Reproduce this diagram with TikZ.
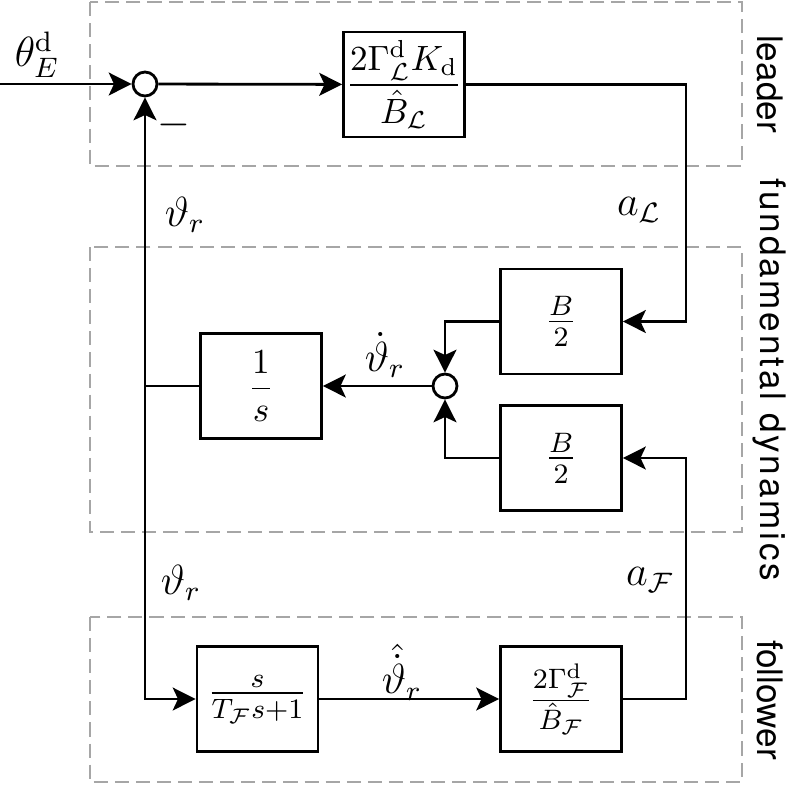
\documentclass[tikz,border=0pt]{standalone}
\usepackage{amsmath}
\usepackage{fontspec}
\setsansfont{TeX Gyre Heros}
\newfontfamily\widesans[LetterSpace=8]{TeX Gyre Heros}
\usetikzlibrary{arrows.meta}

\begin{document}
\begin{tikzpicture}[
    block/.style = {draw, thick, minimum width=1.21cm, minimum height=1.05cm, inner sep=0pt},
    sumnode/.style = {draw, thick, circle, minimum size=0.24cm, inner sep=0pt},
    group/.style = {draw=gray!70, thick, dash pattern=on 4pt off 2pt},
    conn/.style = {thick, -{Stealth[length=6.5pt,width=6.5pt,inset=1.5pt]}},
    wire/.style = {thick},
    grouplabel/.style = {font=\sffamily, rotate=-90},
    signal/.style = {font=\large}
  ]
        \useasboundingbox (0,0) rectangle (7.96,-7.84);
        % dashed groups and their labels
        \draw[group] (0.90,-0.02) rectangle (7.42,-1.66);
        \draw[group] (0.90,-2.47) rectangle (7.42,-5.32);
        \draw[group] (0.90,-6.17) rectangle (7.42,-7.82);
        \node[grouplabel] (lleader) at (7.70,-0.84) {leader};
        \node[grouplabel, font=\widesans] (lfund) at (7.70,-3.80) {fundamental dynamics};
        \node[grouplabel] (lfollow) at (7.70,-7.00) {follower};

        % leader
        \coordinate (in) at (0,-0.84);
        \node[sumnode] (sumL) at (1.45,-0.84) {};
        \node[block] (kL) at (4.04,-0.845) {$\dfrac{2\Gamma^{\mathrm{d}}_{\mathcal{L}}K_{\mathrm{d}}}{\hat{B}_{\mathcal{L}}}$};
        \coordinate (cornerL) at (6.86,-0.845);

        % fundamental dynamics
        \node[block, font=\large] (bU) at (5.61,-3.215) {$\frac{B}{2}$};
        \node[block, font=\large] (bD) at (5.61,-4.58) {$\frac{B}{2}$};
        \node[sumnode] (sumF) at (4.45,-3.86) {};
        \node[block] (integ) at (2.61,-3.86) {$\dfrac{1}{s}$};
        \coordinate (fbjoin) at (1.45,-3.86);

        % follower
        \node[block, font=\large] (hp) at (2.575,-6.99) {$\frac{s}{T_{\mathcal{F}}s+1}$};
        \node[block, font=\large] (kF) at (5.61,-6.99) {$\frac{2\Gamma^{\mathrm{d}}_{\mathcal{F}}}{\hat{B}_{\mathcal{F}}}$};
        \coordinate (fbcorner) at (1.45,-6.99);
        \coordinate (cornerF) at (6.86,-6.99);

        % connectors
        \draw[conn] (in) -- (sumL);
        \draw[conn] (sumL) -- (kL);
        \draw[conn] (kL) -- (cornerL) |- (bU);
        \draw[conn] (kF) -- (cornerF) |- (bD);
        \draw[conn] (bU) -| (sumF);
        \draw[conn] (bD) -| (sumF);
        \draw[conn] (sumF) -- (integ);
        \draw[wire] (integ) -- (fbjoin);
        \draw[conn] (fbjoin) -- (sumL);
        \draw[conn] (fbjoin) -- (fbcorner) -- (hp);
        \draw[conn] (hp) -- (kF);

        % signal labels
        \node[signal] (thetaE) at (0.37,-0.55) {$\theta^{\mathrm{d}}_{E}$};
        \node[signal] (minus) at (1.735,-1.25) {$-$};
        \node[signal] (varthU) at (1.85,-2.15) {$\vartheta_r$};
        \node[signal] (aL) at (6.39,-2.10) {$a_{\mathcal{L}}$};
        \node[signal] (dvarth) at (3.85,-3.55) {$\dot{\vartheta}_r$};
        \node[signal] (varthD) at (1.81,-5.83) {$\vartheta_r$};
        \node[signal] (aF) at (6.50,-5.80) {$a_{\mathcal{F}}$};
        \node[signal] (hdvarth) at (4.02,-6.72) {$\hat{\dot{\vartheta}}_r$};
      \end{tikzpicture}
\end{document}
